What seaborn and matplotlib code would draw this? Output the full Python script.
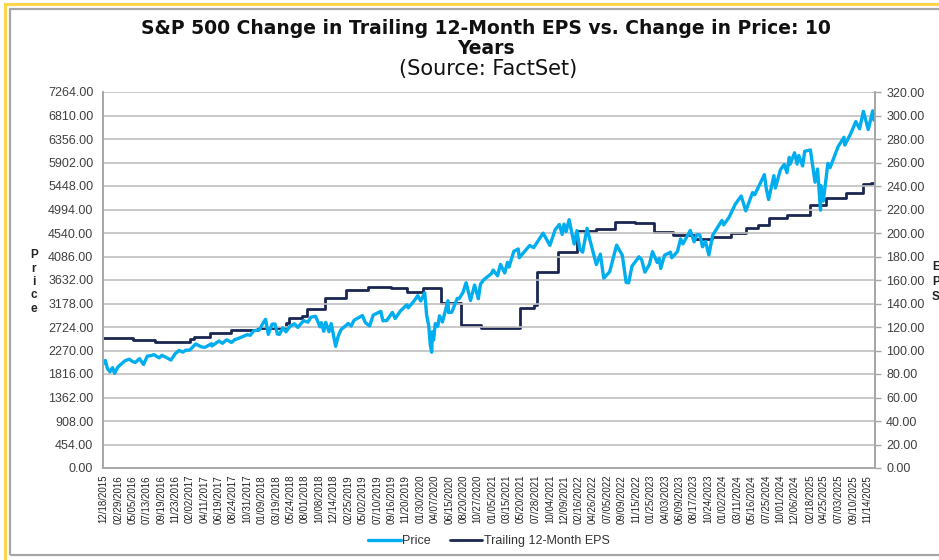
import matplotlib
matplotlib.use("Agg")
import matplotlib.pyplot as plt
import matplotlib.patches as mpatches
import seaborn as sns
import pandas as pd
import numpy as np

# ---------------- data ----------------
price_dates = [
    "2015-12-18","2015-12-29","2016-01-08","2016-01-20","2016-02-01","2016-02-11","2016-02-26","2016-03-15",
    "2016-04-01","2016-04-20","2016-05-06","2016-05-19","2016-06-08","2016-06-27","2016-07-15","2016-08-01",
    "2016-08-15","2016-09-09","2016-09-22","2016-10-14","2016-11-04","2016-11-25","2016-12-13","2016-12-30",
    "2017-01-13","2017-02-01","2017-03-01","2017-03-27","2017-04-13","2017-05-15","2017-05-17","2017-06-19",
    "2017-07-06","2017-07-26","2017-08-18","2017-09-01","2017-09-29","2017-10-31","2017-11-15","2017-11-30",
    "2017-12-29","2018-01-12","2018-01-26","2018-02-08","2018-02-26","2018-03-12","2018-03-23","2018-04-02",
    "2018-04-18","2018-05-03","2018-05-21","2018-06-12","2018-06-28","2018-07-25","2018-08-15","2018-08-29",
    "2018-09-20","2018-10-11","2018-10-17","2018-10-29","2018-11-07","2018-11-23","2018-12-03","2018-12-24",
    "2019-01-04","2019-01-18","2019-02-22","2019-03-08","2019-03-21","2019-04-30","2019-05-13","2019-06-03",
    "2019-06-20","2019-07-26","2019-08-05","2019-08-15","2019-08-23","2019-09-19","2019-10-02","2019-10-28",
    "2019-11-27","2019-12-03","2019-12-31","2020-01-17","2020-01-31","2020-02-19","2020-02-28","2020-03-09",
    "2020-03-16","2020-03-23","2020-03-26","2020-04-01","2020-04-09","2020-04-21","2020-04-29","2020-05-13",
    "2020-06-08","2020-06-11","2020-06-26","2020-07-22","2020-07-31","2020-08-18","2020-09-02","2020-09-23",
    "2020-10-12","2020-10-30","2020-11-09","2020-11-24","2020-12-31","2021-01-08","2021-01-29","2021-02-12",
    "2021-03-04","2021-03-17","2021-03-24","2021-04-16","2021-05-07","2021-05-12","2021-06-30","2021-07-19",
    "2021-08-31","2021-09-02","2021-10-04","2021-10-29","2021-11-18","2021-12-01","2021-12-10","2021-12-20",
    "2022-01-03","2022-01-27","2022-02-09","2022-02-23","2022-03-08","2022-03-29","2022-04-12","2022-04-29",
    "2022-05-12","2022-05-31","2022-06-16","2022-07-14","2022-08-16","2022-09-12","2022-09-30","2022-10-12",
    "2022-10-28","2022-11-30","2022-12-13","2022-12-28","2023-01-18","2023-02-02","2023-02-24","2023-03-06",
    "2023-03-13","2023-03-31","2023-04-28","2023-05-04","2023-05-31","2023-06-15","2023-06-26","2023-07-31",
    "2023-08-18","2023-08-31","2023-09-14","2023-09-27","2023-10-11","2023-10-27","2023-11-14","2023-12-28",
    "2024-01-05","2024-01-31","2024-02-29","2024-03-28","2024-04-19","2024-05-21","2024-05-31","2024-07-16",
    "2024-07-25","2024-08-05","2024-08-30","2024-09-06","2024-09-30","2024-10-18","2024-10-31","2024-11-11",
    "2024-11-15","2024-12-06","2024-12-18","2024-12-26","2025-01-13","2025-01-23","2025-02-19","2025-03-13",
    "2025-03-25","2025-04-08","2025-04-09","2025-04-21","2025-05-13","2025-05-23","2025-06-30","2025-07-28",
    "2025-08-01","2025-08-29","2025-09-22","2025-10-10","2025-10-28","2025-11-20","2025-12-11","2025-12-17",
    "2025-12-19",
]
price_values = [
    2005, 2078, 1922, 1859, 1940, 1829, 1948, 2015,
    2073, 2102, 2057, 2040, 2112, 2000, 2162, 2170,
    2190, 2128, 2177, 2133, 2085, 2213, 2271, 2239,
    2275, 2279, 2396, 2342, 2329, 2402, 2357, 2453,
    2409, 2477, 2425, 2477, 2519, 2575, 2565, 2648,
    2674, 2786, 2873, 2581, 2780, 2783, 2588, 2582,
    2708, 2630, 2733, 2787, 2716, 2846, 2818, 2914,
    2931, 2728, 2809, 2641, 2814, 2633, 2790, 2351,
    2532, 2671, 2793, 2743, 2854, 2946, 2812, 2744,
    2954, 3026, 2844, 2848, 2847, 3006, 2888, 3039,
    3154, 3093, 3231, 3330, 3226, 3386, 2954, 2747,
    2386, 2237, 2630, 2471, 2790, 2737, 2940, 2820,
    3232, 3002, 3009, 3277, 3271, 3390, 3580, 3237,
    3535, 3270, 3550, 3635, 3756, 3824, 3714, 3934,
    3768, 3974, 3881, 4185, 4232, 4063, 4298, 4258,
    4523, 4537, 4300, 4605, 4705, 4513, 4712, 4568,
    4797, 4326, 4587, 4226, 4170, 4631, 4397, 4132,
    3930, 4132, 3667, 3790, 4305, 4110, 3586, 3577,
    3901, 4080, 4019, 3783, 3929, 4179, 3970, 4048,
    3855, 4109, 4169, 4061, 4180, 4426, 4329, 4589,
    4370, 4508, 4505, 4274, 4377, 4117, 4496, 4783,
    4697, 4846, 5096, 5254, 4967, 5321, 5278, 5667,
    5399, 5186, 5648, 5408, 5762, 5864, 5705, 6001,
    5870, 6090, 5872, 6037, 5836, 6119, 6144, 5521,
    5776, 4982, 5457, 5158, 5886, 5802, 6205, 6389,
    6238, 6460, 6693, 6553, 6890, 6538, 6901, 6721,
    6834,
]

eps_dates = [
    "2015-12-18","2016-05-10","2016-08-20","2017-02-01","2017-02-20","2017-05-10","2017-08-15","2017-12-20",
    "2018-05-05","2018-05-15","2018-07-20","2018-08-10","2018-11-05","2019-02-13","2019-05-25","2019-09-10",
    "2019-11-25","2020-02-12","2020-05-05","2020-08-10","2020-11-10","2021-05-13","2021-07-20","2021-08-05",
    "2021-11-10","2022-02-10","2022-05-10","2022-08-10","2022-11-10","2023-02-10","2023-05-10","2023-08-17",
    "2023-11-10","2024-02-10","2024-04-20","2024-06-15","2024-08-05","2024-11-01","2025-02-15","2025-05-05",
    "2025-08-05","2025-10-28","2025-12-05","2025-12-22",
]
eps_values = [
    110.4, 108.9, 107.5, 109.5, 111.7, 114.6, 117.4, 118.9,
    123.1, 127.4, 129.5, 135.1, 144.4, 151.5, 154.3, 152.9,
    150.0, 153.0, 140.7, 121.7, 119.4, 135.9, 138.5, 167.1,
    184.1, 202.0, 203.5, 209.6, 208.5, 201.0, 198.3, 195.0,
    196.9, 199.7, 204.0, 206.8, 212.5, 215.3, 223.8, 229.5,
    233.8, 241.4, 242.8, 242.8,
]

tick_labels = [
    "12/18/2015","02/29/2016","05/05/2016","07/13/2016","09/19/2016","11/23/2016","02/02/2017","04/11/2017",
    "06/19/2017","08/24/2017","10/31/2017","01/09/2018","03/19/2018","05/24/2018","08/01/2018","10/08/2018",
    "12/14/2018","02/25/2019","05/02/2019","07/10/2019","09/16/2019","11/20/2019","01/30/2020","04/07/2020",
    "06/15/2020","08/20/2020","10/27/2020","01/05/2021","03/15/2021","05/20/2021","07/28/2021","10/04/2021",
    "12/09/2021","02/16/2022","04/26/2022","07/05/2022","09/09/2022","11/15/2022","01/25/2023","04/03/2023",
    "06/09/2023","08/17/2023","10/24/2023","01/02/2024","03/11/2024","05/16/2024","07/25/2024","10/01/2024",
    "12/06/2024","02/18/2025","04/25/2025","07/03/2025","09/10/2025","11/14/2025",
]

price_ticks = [454.0 * k for k in range(17)]
eps_ticks = [20.0 * k for k in range(17)]

# ---------------- style ----------------
sns.set_theme(style="white")
plt.rcParams["font.family"] = ["Liberation Sans", "DejaVu Sans"]

PRICE_C = "#00AEEF"
EPS_C = "#1B2752"
GRID_C = "#BFBFBF"
TEXT_C = "#404040"

price_df = pd.DataFrame({"date": pd.to_datetime(price_dates), "Price": price_values})
eps_df = pd.DataFrame({"date": pd.to_datetime(eps_dates), "EPS": eps_values})
tick_dates = pd.to_datetime(tick_labels, format="%m/%d/%Y")

W, H = 939, 560
fig = plt.figure(figsize=(W / 100, H / 100), dpi=100)
fig.patch.set_facecolor("white")

# frame borders (screenshot look)
fig.add_artist(mpatches.Rectangle((5 / W, -0.1), 1.2, 1 - 4 / H + 0.1, transform=fig.transFigure,
                                  fill=False, edgecolor="#FFD54A", linewidth=2.2))
fig.add_artist(mpatches.Rectangle((9.5 / W, 5 / H), 1.2, 1 - 14 / H, transform=fig.transFigure,
                                  fill=False, edgecolor="#A6A6A6", linewidth=1.6))

ax = fig.add_axes([103 / W, 92 / H, (875 - 103) / W, (468 - 92) / H])
ax2 = ax.twinx()

sns.lineplot(data=price_df, x="date", y="Price", ax=ax, color=PRICE_C, linewidth=2.4,
             label="Price", legend=False)
sns.lineplot(data=eps_df, x="date", y="EPS", ax=ax2, color=EPS_C, linewidth=2.0,
             drawstyle="steps-post", label="Trailing 12-Month EPS", legend=False)

ax.set_xlim(pd.Timestamp("2015-12-18"), pd.Timestamp("2025-12-22"))
ax.set_ylim(0, 7264)
ax2.set_ylim(0, 320)
ax.set_yticks(price_ticks)
ax.set_yticklabels([f"{v:.2f}" for v in price_ticks])
ax2.set_yticks(eps_ticks)
ax2.set_yticklabels([f"{v:.2f}" for v in eps_ticks])
ax.set_xticks(tick_dates)
ax.set_xticklabels(tick_labels, rotation=90, fontsize=7, color="#222222")

ax.yaxis.grid(True, color=GRID_C, linewidth=1.2)
ax.set_axisbelow(True)
ax.set_zorder(ax2.get_zorder() + 1)
ax.patch.set_visible(False)

for a in (ax, ax2):
    a.set_xlabel("")
    a.set_ylabel("")
    for s in a.spines.values():
        s.set_color("#A6A6A6")
        s.set_linewidth(1.2)
    a.spines["top"].set_visible(False)
ax.tick_params(axis="y", labelsize=9, colors=TEXT_C, length=0, pad=7)
ax2.tick_params(axis="y", labelsize=9, colors=TEXT_C, length=4, width=1, color="#A6A6A6", pad=4)
ax.tick_params(axis="x", length=3, width=1, color="#A6A6A6", pad=2)
for lbl in ax.get_yticklabels() + ax2.get_yticklabels():
    lbl.set_color(TEXT_C)

# title
TITLE_FONT = ["DejaVu Sans"]
fig.text(486 / W, 1 - 29 / H, "S&P 500 Change in Trailing 12-Month EPS vs. Change in Price: 10",
         ha="center", va="center", fontsize=13.5, fontweight="bold", color="#111111",
         family=TITLE_FONT)
fig.text(486 / W, 1 - 48 / H, "Years", ha="center", va="center", fontsize=13.5,
         fontweight="bold", color="#111111", family=TITLE_FONT)
fig.text(488 / W, 1 - 69 / H, "(Source: FactSet)", ha="center", va="center", fontsize=15,
         color="#111111", family=TITLE_FONT)

# stacked axis titles
fig.text(34 / W, 1 - 282 / H, "P\nr\ni\nc\ne", ha="center", va="center", fontsize=8.5,
         fontweight="bold", color="#222222", linespacing=1.15)
fig.text(932 / W, 1 - 282 / H, "E\nP\nS", ha="left", va="center", fontsize=8.5,
         fontweight="bold", color="#222222", linespacing=1.35)

# legend
h1, l1 = ax.get_legend_handles_labels()
h2, l2 = ax2.get_legend_handles_labels()
fig.legend(h1 + h2, l1 + l2, loc="center", bbox_to_anchor=(489 / W, 1 - 541 / H), ncol=2,
           frameon=False, fontsize=9, handlelength=2.6, handletextpad=0.15, columnspacing=1.5,
           labelcolor="#333333")

fig.savefig("out.png", dpi=100, facecolor="white")
